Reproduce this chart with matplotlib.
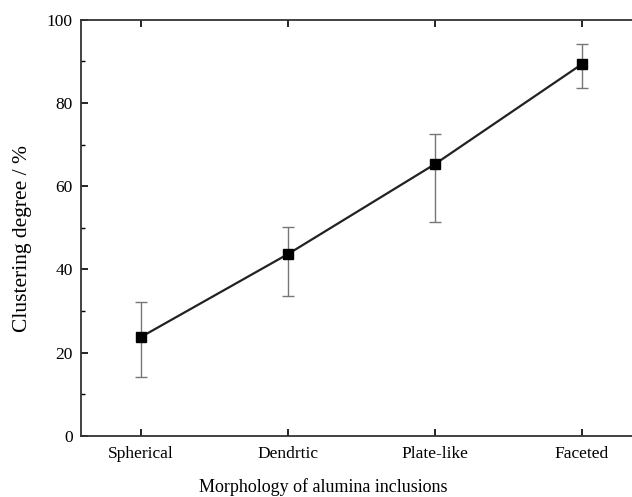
import matplotlib.pyplot as plt
from matplotlib.ticker import MultipleLocator

plt.rcParams["font.family"] = ["Liberation Serif", "DejaVu Serif"]

# === Data ===
categories = ["Spherical", "Dendrtic", "Plate-like", "Faceted"]
clustering = [23.8, 43.7, 65.3, 89.3]
err_low = [9.6, 10.0, 13.8, 5.8]
err_high = [8.5, 6.4, 7.2, 4.9]

fig = plt.figure(figsize=(6.32, 4.97), dpi=100)
# axes run past the right edge: the original is cropped there
ax = fig.add_axes([0.128, 0.1227, 0.888, 0.8379])

x = range(len(categories))
ax.errorbar(x, clustering, yerr=[err_low, err_high], fmt="none",
            ecolor="#777777", elinewidth=1.0, capsize=4, capthick=1.0, zorder=2)
ax.plot(x, clustering, color="#222222", linewidth=1.6, marker="s",
        markersize=7, markerfacecolor="black", markeredgecolor="black", zorder=3)

ax.set_xlim(-0.41, 3.41)
ax.set_ylim(0, 100)
ax.set_xticks(list(x))
ax.set_xticklabels(categories)
ax.yaxis.set_major_locator(MultipleLocator(20))
ax.yaxis.set_minor_locator(MultipleLocator(10))

ax.tick_params(axis="x", direction="in", top=True, length=5, width=1.2,
               labelsize=12.5, pad=7)
ax.tick_params(axis="y", which="major", direction="in", length=5, width=1.2,
               labelsize=12.5, pad=6)
ax.tick_params(axis="y", which="minor", direction="in", length=3, width=1.0)

for s in ax.spines.values():
    s.set_linewidth(1.3)
    s.set_color("#333333")

ax.set_xlabel("Morphology of alumina inclusions", fontsize=13)
ax.set_ylabel("Clustering degree / %", fontsize=15.5)
ax.xaxis.set_label_coords(0.431, -0.1)
ax.yaxis.set_label_coords(-0.087, 0.474)

fig.savefig("out.png", dpi=100)
